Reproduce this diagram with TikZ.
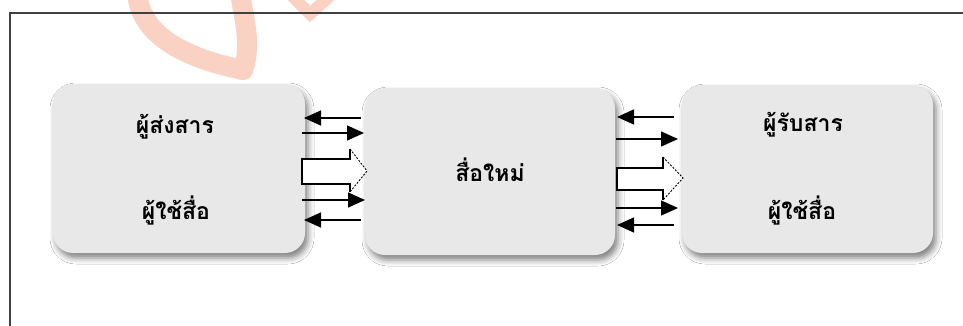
\documentclass[tikz,border=0pt]{standalone}
\usepackage{fontspec}
\newfontfamily\thaifont[Script=Thai]{Loma}
\usetikzlibrary{arrows.meta,shadows.blur}
\definecolor{boxgray}{HTML}{E8E8E8}
\definecolor{wmsalmon}{HTML}{F9D2C4}
\tikzset{
  party/.style={draw=none, fill=boxgray, rounded corners=20pt,
    blur shadow={shadow xshift=3pt, shadow yshift=-5pt, shadow blur radius=6pt, shadow opacity=50}},
  lbl/.style={font=\thaifont\bfseries\fontsize{23}{26}\selectfont, inner sep=0pt},
  msg/.style={line width=1.4pt, -{Triangle[length=17pt,width=15pt]}},
  blockside/.style={line width=1.3pt, line join=miter},
  blockhead/.style={line width=0.9pt, dash pattern=on 2pt off 1.5pt},
  wmstroke/.style={draw=wmsalmon, line width=20pt, line cap=round}
}
\begin{document}
\begin{tikzpicture}[x=1pt,y=-1pt]
\useasboundingbox (0,0) rectangle (963,326);
\fill[white] (0,0) rectangle (963,326);

% faded mark at the top edge
\draw[wmstroke] (137,-8) .. controls (140,40) and (195,60) .. (243,70);
\draw[wmstroke] (243,70) .. controls (252,45) and (244,20) .. (240,-8);
\draw[wmsalmon, line width=10pt] (186,-2) arc[start angle=180, end angle=360, radius=17];
\draw[wmsalmon, line width=12pt, line cap=round] (292,-4) -- (310,14) -- (330,-4);

% frame
\draw[line width=1.5pt, black!75] (10,326) -- (10,13) -- (963,13);

% the three parties
\node[party, minimum width=252pt, minimum height=169pt] (sender) at (179,168.5) {};
\node[party, minimum width=250pt, minimum height=167pt] (media) at (490,171.5) {};
\node[party, minimum width=251pt, minimum height=168pt] (receiver) at (807.5,169) {};

\node[lbl] (s1) at (175,127) {ผู้ส่งสาร};
\node[lbl] (s2) at (176,211) {ผู้ใช้สื่อ};
\node[lbl] (m1) at (490,170) {สื่อใหม่};
\node[lbl] (r1) at (803,125) {ผู้รับสาร};
\node[lbl] (r2) at (802,211) {ผู้ใช้สื่อ};

% message arrows between sender and media
\coordinate (a1l) at (304,118); \coordinate (a1r) at (361,118);
\coordinate (a2l) at (302,133); \coordinate (a2r) at (364,133);
\coordinate (a3l) at (302,200); \coordinate (a3r) at (365,200);
\coordinate (a4l) at (304,220); \coordinate (a4r) at (361,220);
\draw[msg] (a1r) -- (a1l);
\draw[msg] (a2l) -- (a2r);
\draw[msg] (a3l) -- (a3r);
\draw[msg] (a4r) -- (a4l);

% message arrows between media and receiver
\coordinate (b1l) at (617,117); \coordinate (b1r) at (674,117);
\coordinate (b2l) at (616,139); \coordinate (b2r) at (678,139);
\coordinate (b3l) at (616,208); \coordinate (b3r) at (678,208);
\coordinate (b4l) at (617,225); \coordinate (b4r) at (674,225);
\draw[msg] (b1r) -- (b1l);
\draw[msg] (b2l) -- (b2r);
\draw[msg] (b3l) -- (b3r);
\draw[msg] (b4r) -- (b4l);

% hollow block arrows
\fill[white] (302,159) -- (350,159) -- (350,149) -- (367,171) -- (350,192) -- (350,184) -- (302,184) -- cycle;
\draw[blockside] (350,149) -- (350,159) -- (302,159) -- (302,184) -- (350,184) -- (350,192);
\draw[blockhead] (350,149) -- (367,171) -- (350,192);

\fill[white] (617,168) -- (663,168) -- (663,157) -- (683,178) -- (663,200) -- (663,190) -- (617,190) -- cycle;
\draw[blockside] (663,157) -- (663,168) -- (617,168) -- (617,190) -- (663,190) -- (663,200);
\draw[blockhead] (663,157) -- (683,178) -- (663,200);
\end{tikzpicture}
\end{document}
